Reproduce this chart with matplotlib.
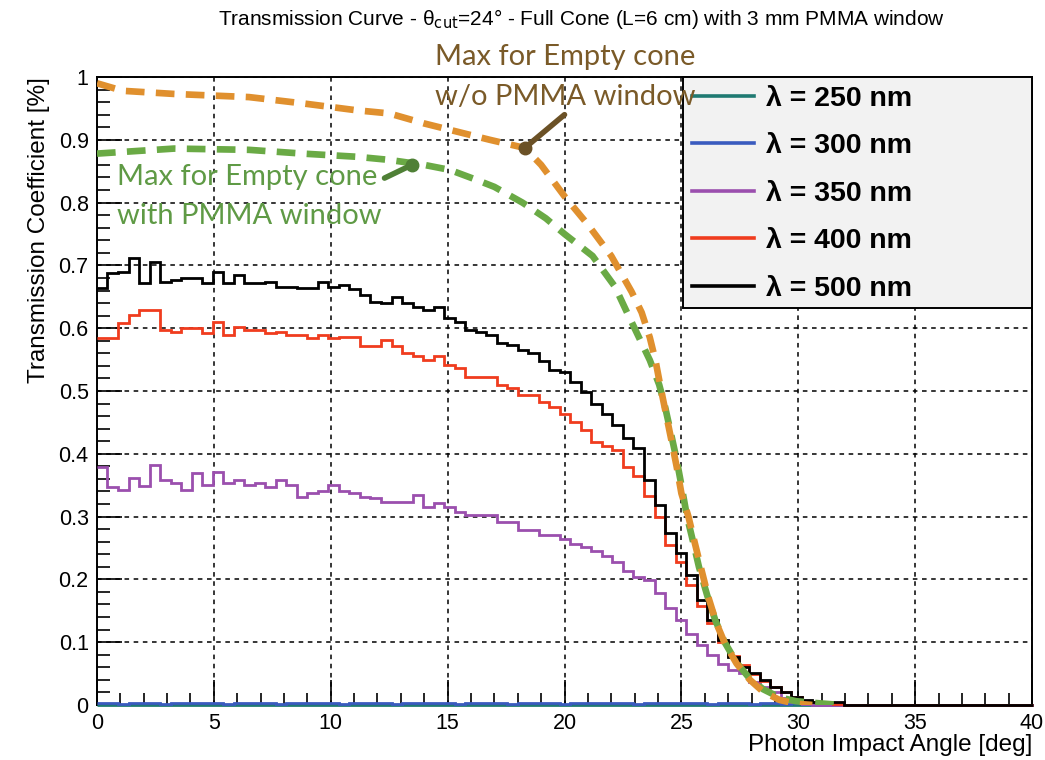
import numpy as np
import matplotlib
matplotlib.use('Agg')
import matplotlib.pyplot as plt
from matplotlib.ticker import MultipleLocator
from matplotlib.lines import Line2D
from matplotlib.patches import Rectangle

# ---- data ----
bin_width = 0.45  # deg

lam_labels = ['λ = 250 nm', 'λ = 300 nm', 'λ = 350 nm', 'λ = 400 nm', 'λ = 500 nm']

t250 = [0.0] * 89
t300 = [0.003, 0.003, 0.002, 0.003, 0.003, 0.003, 0.002, 0.003, 0.003, 0.003,
        0.003, 0.003, 0.002, 0.003, 0.003, 0.003, 0.003, 0.002, 0.003, 0.003,
        0.003, 0.003, 0.003, 0.002, 0.003, 0.003, 0.003, 0.003, 0.002, 0.003,
        0.003, 0.003, 0.003, 0.003, 0.002, 0.003, 0.003, 0.003, 0.003, 0.002,
        0.003, 0.003, 0.003, 0.003, 0.002, 0.003, 0.003, 0.003, 0.003, 0.003,
        0.003, 0.002, 0.003, 0.003, 0.003, 0.003, 0.003, 0.003, 0.002, 0.003,
        0.003, 0.003, 0.002, 0.003, 0.003, 0.002, 0.003, 0.002, 0.002, 0.002,
        0.002] + [0.0] * 18
t350 = [0.379, 0.347, 0.343, 0.361, 0.348, 0.382, 0.358, 0.353, 0.343, 0.369,
        0.350, 0.371, 0.353, 0.359, 0.350, 0.353, 0.347, 0.358, 0.350, 0.331,
        0.337, 0.340, 0.350, 0.341, 0.338, 0.331, 0.329, 0.324, 0.324, 0.324,
        0.334, 0.315, 0.321, 0.316, 0.308, 0.303, 0.303, 0.303, 0.292, 0.292,
        0.279, 0.279, 0.271, 0.271, 0.265, 0.257, 0.252, 0.245, 0.238, 0.228,
        0.214, 0.204, 0.199, 0.178, 0.155, 0.135, 0.113, 0.096, 0.080, 0.066,
        0.056, 0.051, 0.037, 0.029, 0.021, 0.011, 0.005, 0.002] + [0.0] * 21
t400 = [0.584, 0.584, 0.608, 0.621, 0.629, 0.629, 0.597, 0.594, 0.600, 0.600,
        0.592, 0.610, 0.589, 0.602, 0.597, 0.597, 0.592, 0.594, 0.589, 0.589,
        0.585, 0.589, 0.585, 0.586, 0.586, 0.571, 0.571, 0.581, 0.571, 0.560,
        0.555, 0.549, 0.555, 0.541, 0.536, 0.523, 0.523, 0.523, 0.510, 0.505,
        0.494, 0.494, 0.483, 0.475, 0.464, 0.451, 0.438, 0.419, 0.412, 0.406,
        0.379, 0.364, 0.332, 0.300, 0.255, 0.228, 0.191, 0.157, 0.130, 0.100,
        0.078, 0.064, 0.050, 0.038, 0.028, 0.020, 0.012, 0.007, 0.004, 0.003,
        0.002] + [0.0] * 18
t500 = [0.664, 0.688, 0.690, 0.712, 0.672, 0.705, 0.674, 0.677, 0.680, 0.680,
        0.672, 0.690, 0.672, 0.685, 0.672, 0.672, 0.674, 0.666, 0.666, 0.664,
        0.664, 0.674, 0.666, 0.669, 0.663, 0.653, 0.642, 0.640, 0.650, 0.640,
        0.634, 0.629, 0.634, 0.616, 0.610, 0.597, 0.594, 0.589, 0.576, 0.573,
        0.565, 0.560, 0.547, 0.533, 0.530, 0.515, 0.499, 0.480, 0.464, 0.446,
        0.425, 0.409, 0.358, 0.318, 0.274, 0.242, 0.207, 0.167, 0.135, 0.103,
        0.077, 0.061, 0.051, 0.040, 0.029, 0.021, 0.013, 0.008, 0.005, 0.005,
        0.005] + [0.0] * 18

# max transmission curves for an empty cone
nopmma_x = [0.0, 1.1, 3.3, 6.5, 8.8, 11.1, 12.5, 14.0, 15.4, 16.8, 18.3, 19.0,
            20.0, 21.0, 22.0, 22.87, 23.3, 23.65, 23.9, 24.12, 24.35, 24.57,
            24.8, 25.0, 25.3, 25.58, 25.86, 26.15, 26.5, 26.86, 27.36, 27.93,
            28.5, 29.2, 29.9, 30.6]
nopmma_y = [0.99, 0.978, 0.973, 0.968, 0.958, 0.947, 0.942, 0.926, 0.913, 0.90,
            0.887, 0.86, 0.81, 0.765, 0.715, 0.658, 0.625, 0.585, 0.547, 0.504,
            0.462, 0.422, 0.379, 0.337, 0.30, 0.257, 0.215, 0.172, 0.130, 0.098,
            0.066, 0.040, 0.021, 0.008, 0.002, 0.0]
pmma_x = [0.0, 3.3, 6.5, 8.8, 11.1, 12.5, 14.0, 15.1, 16.25, 17.0, 18.2, 19.2,
          20.0, 21.2, 22.16, 22.65, 23.15, 23.65, 24.05, 24.3, 24.55, 24.8, 25.0,
          25.24, 25.5, 25.75, 26.1, 26.45, 26.85, 27.35, 27.9, 28.5, 29.2, 29.9,
          30.8, 31.8]
pmma_y = [0.878, 0.886, 0.884, 0.878, 0.873, 0.868, 0.860, 0.852, 0.836, 0.825,
          0.80, 0.775, 0.75, 0.715, 0.666, 0.627, 0.588, 0.549, 0.51, 0.475,
          0.433, 0.39, 0.35, 0.30, 0.26, 0.22, 0.175, 0.135, 0.10, 0.068, 0.043,
          0.025, 0.012, 0.006, 0.003, 0.0]

colors = ['#1f7a72', '#3a5bbf', '#9b4fae', '#f03c1e', '#000000']
c_nopmma = '#e0902e'
c_pmma = '#6aaa45'
helv = ['Liberation Sans', 'DejaVu Sans']
gill = ['Lato', 'DejaVu Sans']

fig = plt.figure(figsize=(10.45, 7.6), dpi=100)
ax = fig.add_axes([0.0928, 0.0724, 0.8948, 0.8263])

series = [t250, t300, t350, t400, t500]
for vals, col in zip(series, colors):
    edges = np.arange(len(vals) + 1) * bin_width
    ax.stairs(vals, edges, baseline=None, color=col, lw=2.0, zorder=3, clip_on=False)

dash_kw = dict(lw=4.8, dashes=(2.8, 1.7), dash_capstyle='butt', zorder=4)
ax.plot(pmma_x, pmma_y, color=c_pmma, **dash_kw)
ax.plot(nopmma_x, nopmma_y, color=c_nopmma, **dash_kw)

# annotations
brown = '#7a5a28'
ax.plot([18.3, 20.0], [0.887, 0.94], color='#6b5126', lw=4, zorder=6, solid_capstyle='round')
ax.plot([18.3], [0.887], 'o', color='#6b5126', ms=9, zorder=6)
ax.text(20.05, 1.032, 'Max for Empty cone', color=brown, fontsize=21,
        family=gill, ha='center', va='center', clip_on=False, zorder=7)
ax.text(20.05, 0.968, 'w/o PMMA window', color=brown, fontsize=21,
        family=gill, ha='center', va='center', zorder=7)

gcol = '#4f8036'
ax.plot([12.3, 13.47], [0.839, 0.86], color=gcol, lw=4, zorder=6, solid_capstyle='round')
ax.plot([13.47], [0.86], 'o', color=gcol, ms=9, zorder=6)
ax.text(0.86, 0.84, 'Max for Empty cone', color='#5f9a45', fontsize=21,
        family=gill, ha='left', va='center', zorder=7)
ax.text(0.86, 0.779, 'with PMMA window', color='#5f9a45', fontsize=21,
        family=gill, ha='left', va='center', zorder=7)

# axes, ticks, grid (ROOT style)
ax.set_xlim(0, 40)
ax.set_ylim(0, 1)
ax.xaxis.set_major_locator(MultipleLocator(5))
ax.xaxis.set_minor_locator(MultipleLocator(1))
ax.yaxis.set_major_locator(MultipleLocator(0.1))
ax.yaxis.set_minor_locator(MultipleLocator(0.02))
ax.xaxis.set_major_formatter(plt.FuncFormatter(lambda v, _: f'{v:g}'))
ax.yaxis.set_major_formatter(plt.FuncFormatter(lambda v, _: f'{v:g}'))
ax.tick_params(which='both', direction='in', top=False, right=False,
               labelsize=15.5, width=1.2, pad=6)
ax.tick_params(which='major', length=18)
ax.tick_params(which='minor', length=9)
for lab in ax.get_xticklabels() + ax.get_yticklabels():
    lab.set_family(helv)
ax.grid(True, which='major', color='black', ls=(0, (3, 3)), lw=1.1)
for sp in ax.spines.values():
    sp.set_linewidth(1.4)

ax.set_ylabel('Transmission Coefficient [%]', fontsize=17.5,
              family=helv, loc='top', labelpad=6)
ax.set_xlabel('Photon Impact Angle [deg]', fontsize=17.5,
              family=helv, loc='right', labelpad=0)

fig.text(0.556, 0.975, r'Transmission Curve - θ$_\mathrm{cut}$=24° - Full Cone (L=6 cm) with 3 mm PMMA window',
         ha='center', va='center', fontsize=15, family=helv)

# legend: grey box spanning the upper right corner
ax.add_patch(Rectangle((0.6267, 0.632), 0.3733, 0.368, transform=ax.transAxes,
                       facecolor='#f2f2f2', edgecolor='black', lw=1.4, zorder=5,
                       clip_on=False))
handles = [Line2D([], [], color=c, lw=2.6) for c in colors]
leg = ax.legend(handles, lam_labels, loc='upper left', bbox_to_anchor=(0.6267, 1.0),
                frameon=False, borderaxespad=0, handlelength=2.2,
                handletextpad=0.4, labelspacing=0.76, borderpad=0.3,
                prop={'family': helv, 'weight': 'bold', 'size': 20.5})
leg.set_zorder(6)

fig.savefig('out.png', dpi=100)
